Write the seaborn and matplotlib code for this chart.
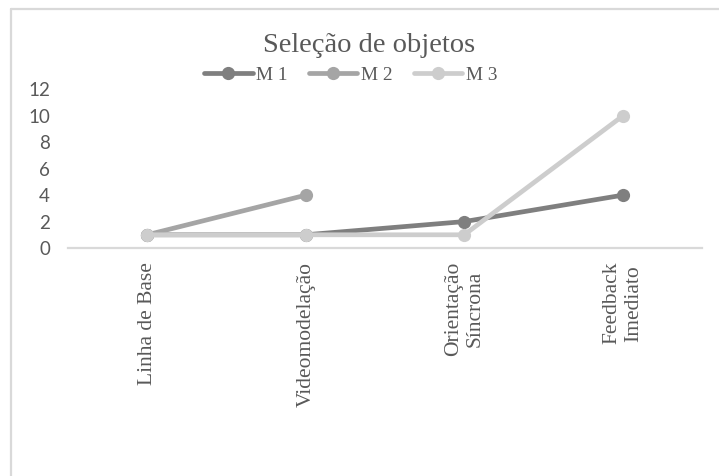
import matplotlib
matplotlib.use("Agg")
import matplotlib.pyplot as plt
from matplotlib.lines import Line2D
import numpy as np
import pandas as pd
import seaborn as sns

# Data
fases = ["Linha de Base", "Videomodelação", "Orientação\nSíncrona", "Feedback\nImediato"]
m1 = [1, 1, 2, 4]
m2 = [1, 4, np.nan, np.nan]
m3 = [1, 1, 1, 10]
series = ["M 1", "M 2", "M 3"]
cores = ["#7f7f7f", "#a5a5a5", "#cdcdcd"]
yticks = [0, 2, 4, 6, 8, 10, 12]

sns.set_theme(style="white")
plt.rcParams["font.family"] = ["Liberation Serif", "DejaVu Serif"]

W, H = 719, 476
fig = plt.figure(figsize=(W / 100, H / 100), dpi=100)
fig.patch.set_facecolor("white")

# light frame (top and left edges) around the chart area
x0, y0 = 11 / W, 1 - 9 / H
for xs, ys in [([x0, 1.0], [y0, y0]), ([x0, x0], [0.0, y0])]:
    fig.add_artist(Line2D(xs, ys, transform=fig.transFigure,
                          color="#d9d9d9", linewidth=1.6))

ax_left, ax_right = 68, 702
ax_bottom, ax_top = 248, 89.5
ax = fig.add_axes([ax_left / W, 1 - ax_bottom / H,
                   (ax_right - ax_left) / W, (ax_bottom - ax_top) / H])

pos = list(range(len(fases)))
for nome, vals, cor in zip(series, [m1, m2, m3], cores):
    df = pd.DataFrame({"x": pos, "y": vals}).dropna()
    sns.lineplot(data=df, x="x", y="y", ax=ax, color=cor, linewidth=3.4,
                 marker="o", markersize=9.5, markeredgewidth=0,
                 markeredgecolor=cor, label=nome, sort=False)

ax.set_xlim(-0.5, len(fases) - 0.5)
ax.set_ylim(0, 12)
ax.set_yticks(yticks)
ax.set_yticklabels([str(v) for v in yticks], fontfamily="Lato",
                   fontsize=13.5, color="#595959")
ax.set_xticks(pos)
ax.set_xticklabels(fases, rotation=90, fontsize=15.5, color="#595959",
                   va="top", ha="center", multialignment="center")
ax.tick_params(axis="y", length=0, pad=13)
ax.tick_params(axis="x", length=0, pad=10)
ax.set_xlabel("")
ax.set_ylabel("")
for s in ["top", "right", "left"]:
    ax.spines[s].set_visible(False)
ax.spines["bottom"].set_color("#d9d9d9")
ax.spines["bottom"].set_linewidth(1.6)
ax.grid(False)

handles, labels = ax.get_legend_handles_labels()
ax.get_legend().remove()
fig.legend(handles, labels, loc="center", bbox_to_anchor=(351 / W, 1 - 75 / H),
           ncol=3, frameon=False, fontsize=13.9, handlelength=2.5,
           handletextpad=0.2, columnspacing=1.1, labelcolor="#595959",
           borderaxespad=0, borderpad=0)

fig.text(369 / W, 1 - 45 / H, "Seleção de objetos", ha="center", va="center",
         fontsize=20.5, color="#595959")

fig.savefig("out.png", dpi=100, facecolor="white")
